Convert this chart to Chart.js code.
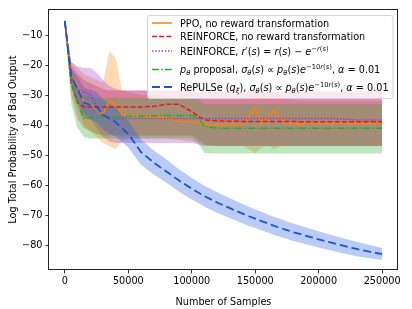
<!DOCTYPE html>
<html>
<head>
<meta charset="utf-8">
<script src="https://cdn.jsdelivr.net/npm/chart.js@4.4.0/dist/chart.umd.min.js"></script>
<style>
html, body { margin: 0; padding: 0; background: #fff; }
#wrap { position: relative; width: 412px; height: 309px; }
</style>
</head>
<body>
<div id="wrap"><canvas id="MyChart1"></canvas></div>
<script>
var Samples = [0, 5000, 10000, 15000, 20000, 25000, 30000, 35000, 40000, 45000, 50000, 55000, 60000,
    70000, 80000, 90000, 100000, 105000, 110000, 120000, 130000, 140000, 145000, 150000, 155000,
    160000, 165000, 170000, 175000, 180000, 185000, 190000, 200000, 210000, 220000, 230000, 240000, 250000];

var PPO = [-5.5, -23.3, -26.5, -32.2, -32.8, -34.8, -36.5, -31.7, -33.2, -36.5, -37.0, -37.0, -37.0,
    -37.2, -37.6, -38.9, -38.9, -39.3, -39.8, -39.8, -39.8, -39.8, -37.0, -34.3, -39.5,
    -37.5, -35.0, -38.3, -39.5, -39.0, -40.0, -39.2, -39.2, -39.2, -39.2, -39.3, -39.3, -39.3];
var PPOHigh = [-5.0, -19.0, -21.0, -23.0, -24.0, -25.0, -26.0, -15.5, -17.5, -28.5, -29.0, -29.5, -30.0,
    -30.0, -30.5, -30.5, -31.0, -31.0, -31.5, -31.5, -31.5, -31.5, -30.0, -28.5, -31.0,
    -30.0, -29.0, -30.5, -31.5, -31.5, -32.0, -32.0, -32.0, -32.0, -32.0, -32.0, -32.0, -32.0];
var PPOLow = [-6.0, -28.0, -34.0, -40.0, -42.0, -44.0, -46.0, -47.0, -48.0, -45.5, -44.5, -44.5, -44.5,
    -44.5, -44.5, -45.0, -45.5, -46.0, -47.0, -47.0, -47.0, -47.0, -48.0, -49.4, -47.5,
    -47.0, -48.0, -47.0, -47.0, -47.0, -47.0, -47.0, -47.0, -47.0, -47.0, -47.0, -47.0, -47.0];

var Reinforce = [-5.5, -26.0, -32.5, -34.0, -34.0, -34.0, -34.0, -34.0, -34.0, -34.0, -34.0, -34.0, -34.0,
    -33.8, -33.1, -33.1, -35.5, -37.0, -38.3, -38.6, -38.7, -38.8, -38.8, -38.8, -38.8,
    -38.8, -38.8, -38.8, -38.8, -38.8, -38.9, -38.9, -38.9, -38.9, -38.9, -38.9, -38.9, -38.9];
var ReinforceHigh = [-5.0, -20.0, -23.0, -25.0, -26.0, -27.0, -28.0, -28.5, -28.5, -28.5, -28.5, -28.5, -28.5,
    -28.5, -28.5, -28.5, -28.5, -29.0, -29.0, -29.0, -29.0, -29.0, -29.0, -29.0, -29.0,
    -29.0, -29.0, -29.0, -29.0, -29.0, -29.0, -29.0, -29.0, -29.0, -29.0, -29.0, -29.0, -29.0];
var ReinforceLow = [-6.0, -30.0, -38.0, -41.0, -42.0, -43.0, -43.5, -43.5, -43.5, -43.5, -43.5, -43.5, -43.5,
    -43.5, -43.5, -43.5, -43.5, -45.0, -46.5, -47.0, -47.0, -47.0, -47.0, -47.0, -47.0,
    -47.0, -47.0, -47.0, -47.0, -47.0, -47.0, -47.0, -47.0, -47.0, -47.0, -47.0, -47.0, -47.0];

var ReinforceExp = [-5.5, -23.5, -28.0, -29.0, -29.8, -33.5, -37.0, -37.8, -37.8, -37.8, -37.8, -37.8, -37.8,
    -37.8, -37.8, -37.8, -37.8, -37.8, -37.8, -37.8, -37.8, -37.8, -37.8, -37.8, -37.8,
    -37.8, -37.8, -37.8, -37.8, -37.8, -37.8, -37.8, -37.8, -37.8, -38.0, -38.3, -38.3, -38.3];
var ReinforceExpHigh = [-5.0, -19.0, -20.5, -21.0, -21.0, -22.5, -25.0, -27.0, -28.0, -28.5, -28.5, -28.5, -28.5,
    -28.5, -28.5, -28.5, -28.5, -28.5, -28.5, -28.5, -28.5, -28.5, -28.5, -28.5, -28.5,
    -28.5, -28.5, -28.5, -28.5, -28.5, -28.5, -28.5, -28.5, -28.5, -28.5, -28.5, -28.5, -28.5];
var ReinforceExpLow = [-6.0, -27.0, -33.0, -36.0, -38.0, -41.0, -44.0, -45.5, -46.0, -46.0, -46.0, -46.0, -46.0,
    -46.0, -46.0, -46.0, -46.0, -46.5, -47.0, -47.0, -47.0, -47.0, -47.0, -47.0, -47.0,
    -47.0, -47.0, -47.0, -47.0, -47.0, -47.0, -47.0, -47.0, -47.0, -47.0, -47.0, -47.0, -47.0];

var Proposal = [-5.5, -25.0, -33.0, -37.8, -37.5, -37.4, -37.3, -37.3, -37.2, -37.2, -37.1, -37.1, -37.0,
    -36.9, -36.8, -36.8, -36.8, -37.5, -40.6, -41.0, -41.1, -41.1, -41.1, -41.1, -41.1,
    -41.1, -41.1, -41.1, -41.1, -41.1, -41.1, -41.1, -41.1, -41.1, -41.1, -41.1, -41.1, -41.1];
var ProposalHigh = [-5.0, -21.0, -27.0, -30.0, -30.5, -31.0, -31.0, -31.0, -31.0, -31.0, -31.0, -31.0, -31.0,
    -31.0, -31.0, -31.0, -31.0, -31.5, -33.0, -33.0, -33.0, -33.0, -33.0, -33.0, -33.0,
    -33.0, -33.0, -33.0, -33.0, -33.0, -33.0, -33.0, -33.0, -33.0, -33.0, -33.0, -33.0, -33.0];
var ProposalLow = [-6.0, -33.0, -41.0, -44.0, -44.5, -44.5, -44.5, -44.5, -44.5, -44.5, -44.5, -44.5, -44.5,
    -44.5, -44.5, -44.5, -44.5, -46.0, -49.4, -49.5, -49.5, -49.5, -49.5, -49.5, -49.5,
    -49.5, -49.5, -49.5, -49.5, -49.5, -49.5, -49.5, -49.5, -49.5, -49.5, -49.5, -49.5, -49.5];

var Repulse = [-5.3, -23.5, -28.0, -32.5, -33.2, -34.0, -36.5, -37.8, -39.0, -41.0, -43.0, -46.0, -49.0,
    -52.5, -55.5, -58.5, -61.2, -62.5, -63.7, -65.8, -67.7, -69.5, -70.4, -71.2, -72.0,
    -72.8, -73.6, -74.3, -75.0, -75.7, -76.3, -76.9, -78.1, -79.2, -80.3, -81.3, -82.2, -83.0];
var RepulseHigh = [-5.0, -21.5, -24.0, -27.5, -28.2, -29.0, -31.5, -32.8, -34.2, -36.4, -38.5, -41.6, -44.8,
    -48.5, -51.4, -54.8, -57.6, -59.0, -60.2, -62.4, -64.4, -66.3, -67.2, -68.1, -68.9,
    -69.8, -70.6, -71.3, -72.1, -72.8, -73.5, -74.1, -75.4, -76.6, -77.8, -78.9, -80.0, -81.0];
var RepulseLow = [-5.6, -25.5, -32.0, -37.5, -38.2, -39.0, -41.5, -42.8, -43.8, -45.6, -47.5, -50.4, -53.2,
    -56.5, -59.2, -62.2, -64.8, -66.0, -67.2, -69.2, -71.0, -72.7, -73.6, -74.3, -75.1,
    -75.8, -76.6, -77.3, -77.9, -78.6, -79.1, -79.7, -80.8, -81.8, -82.8, -83.7, -84.4, -85.0];

var XTicks = [0, 50000, 100000, 150000, 200000, 250000];
var YTicks = [-80, -70, -60, -50, -40, -30, -20, -10];

// legend text: [text, italic, 1 = superscript / -1 = subscript]
var SigmaPart = [['\u03c3', 1, 0], ['\u03b8', 1, -1], ['(', 0, 0], ['s', 1, 0], [') \u221d ', 0, 0],
    ['p', 1, 0], ['\u03b8', 1, -1], ['(', 0, 0], ['s', 1, 0], [')', 0, 0], ['e', 1, 0],
    ['\u221210', 0, 1], ['r', 1, 1], ['(', 0, 1], ['s', 1, 1], [')', 0, 1], [', ', 0, 0],
    ['\u03b1', 1, 0], [' = 0.01', 0, 0]];
var LegendLabels = [
    [['PPO, no reward transformation', 0, 0]],
    [['REINFORCE, no reward transformation', 0, 0]],
    [['REINFORCE, ', 0, 0], ['r', 1, 0], ['\u2032(', 0, 0], ['s', 1, 0], [') = ', 0, 0], ['r', 1, 0],
        ['(', 0, 0], ['s', 1, 0], [') \u2212 ', 0, 0], ['e', 1, 0], ['\u2212', 0, 1], ['r', 1, 1],
        ['(', 0, 1], ['s', 1, 1], [')', 0, 1]],
    [['p', 1, 0], ['\u03b8', 1, -1], [' proposal, ', 0, 0]].concat(SigmaPart),
    [['RePULSe (', 0, 0], ['q', 1, 0], ['\u03be', 1, -1], ['), ', 0, 0]].concat(SigmaPart)
];

var Orange = '#ff7f0e', Red = '#e8161a', Purple = '#9932cc', Green = '#22b022', Blue = '#1a52e0';
var Styles = [
    { color: Orange, dash: [] },
    { color: Red, dash: [5, 2.2] },
    { color: Purple, dash: [1.4, 1.8] },
    { color: Green, dash: [7, 2.2, 1.4, 2.2] },
    { color: Blue, dash: [8, 4] }
];

var FONT = "'DejaVu Sans'";
Chart.defaults.font.family = FONT;
Chart.defaults.font.size = 9.7;
Chart.defaults.color = '#000';

function pts(ys) {
    return Samples.map(function (x, i) { return { x: x, y: ys[i] }; });
}

function band(lo, hi, rgba, order) {
    return [
        { data: pts(lo), borderWidth: 0, pointRadius: 0, fill: false, order: order },
        { data: pts(hi), borderWidth: 0, pointRadius: 0, fill: '-1', backgroundColor: rgba, order: order }
    ];
}

function line(ys, st, order, w) {
    return {
        data: pts(ys), borderColor: st.color, borderDash: st.dash, borderWidth: w || 1.5,
        borderCapStyle: 'butt', pointRadius: 0, fill: false, tension: 0, order: order
    };
}

function drawRich(ctx, parts, x, y, size) {
    parts.forEach(function (p) {
        var s = p[2] ? size * 0.7 : size;
        ctx.font = (p[1] ? 'italic ' : '') + s + 'px ' + FONT;
        var dy = p[2] === 1 ? -size * 0.4 : (p[2] === -1 ? size * 0.22 : 0);
        ctx.fillText(p[0], x, y + dy);
        x += ctx.measureText(p[0]).width;
    });
}

var framePlugin = {
    id: 'frame',
    afterDraw: function (chart) {
        var ctx = chart.ctx, a = chart.chartArea;
        ctx.save();
        ctx.strokeStyle = '#222';
        ctx.lineWidth = 1;
        ctx.strokeRect(a.left - 0.5, a.top + 0.5, a.right - a.left, a.bottom - a.top - 1);

        // legend box
        var bx = 147.5, by = 15.5, bw = 245.5, bh = 83, r = 2.5;
        ctx.beginPath();
        ctx.moveTo(bx + r, by);
        ctx.arcTo(bx + bw, by, bx + bw, by + bh, r);
        ctx.arcTo(bx + bw, by + bh, bx, by + bh, r);
        ctx.arcTo(bx, by + bh, bx, by, r);
        ctx.arcTo(bx, by, bx + bw, by, r);
        ctx.closePath();
        ctx.fillStyle = 'rgba(255,255,255,0.8)';
        ctx.fill();
        ctx.strokeStyle = '#d0d0d0';
        ctx.stroke();

        var baselines = [26.5, 40, 54.5, 73, 90.5];
        ctx.fillStyle = '#000';
        ctx.textBaseline = 'alphabetic';
        LegendLabels.forEach(function (parts, i) {
            var st = Styles[i], ly = baselines[i] - 3.5;
            ctx.beginPath();
            ctx.setLineDash(st.dash);
            ctx.lineDashOffset = 0;
            ctx.strokeStyle = st.color;
            ctx.lineWidth = i === 4 ? 1.8 : 1.5;
            ctx.lineCap = 'butt';
            ctx.moveTo(152, ly);
            ctx.lineTo(172, ly);
            ctx.stroke();
            ctx.setLineDash([]);
            drawRich(ctx, parts, 180, baselines[i], 9.7);
        });
        ctx.restore();
    }
};

var datasets = []
    .concat(band(PPOLow, PPOHigh, 'rgba(255,127,14,0.3)', 30))
    .concat(band(ReinforceLow, ReinforceHigh, 'rgba(230,22,26,0.3)', 29))
    .concat(band(ReinforceExpLow, ReinforceExpHigh, 'rgba(153,50,204,0.3)', 28))
    .concat(band(ProposalLow, ProposalHigh, 'rgba(34,176,34,0.3)', 27))
    .concat(band(RepulseLow, RepulseHigh, 'rgba(26,82,224,0.3)', 26));
datasets.push(line(PPO, Styles[0], 5));
datasets.push(line(Reinforce, Styles[1], 4));
datasets.push(line(ReinforceExp, Styles[2], 3));
datasets.push(line(Proposal, Styles[3], 2));
datasets.push(line(Repulse, Styles[4], 1, 1.8));

var ctx = document.getElementById('MyChart1').getContext('2d');
var config = {
    type: 'line',
    data: { datasets: datasets },
    options: {
        maintainAspectRatio: false,
        responsive: true,
        animation: false,
        layout: { padding: { left: 0, right: 14, top: 9, bottom: 0 } },
        plugins: { legend: { display: false }, tooltip: { enabled: false } },
        scales: {
            x: {
                type: 'linear', min: -12500, max: 262500,
                afterBuildTicks: function (s) { s.ticks = XTicks.map(function (v) { return { value: v }; }); },
                afterFit: function (s) { s.height = 39; },
                grid: { drawOnChartArea: false, drawTicks: true, tickLength: 3.5, tickColor: '#000', lineWidth: 0.8 },
                border: { display: false },
                ticks: { padding: 2, maxRotation: 0, callback: function (v) { return String(v); } },
                title: { display: true, text: 'Number of Samples', padding: { top: 0, bottom: 1 } }
            },
            y: {
                type: 'linear', min: -88.3, max: -1.33,
                afterBuildTicks: function (s) { s.ticks = YTicks.map(function (v) { return { value: v }; }); },
                afterFit: function (s) { s.width = 49; },
                grid: { drawOnChartArea: false, drawTicks: true, tickLength: 3.5, tickColor: '#000', lineWidth: 0.8 },
                border: { display: false },
                ticks: { padding: 3, callback: function (v) { return String(v).replace('-', '\u2212'); } },
                title: { display: true, text: 'Log Total Probability of Bad Output', padding: { top: 8, bottom: 0 } }
            }
        }
    },
    plugins: [framePlugin]
};
var chart1 = new Chart(ctx, config);
</script>
</body>
</html>
